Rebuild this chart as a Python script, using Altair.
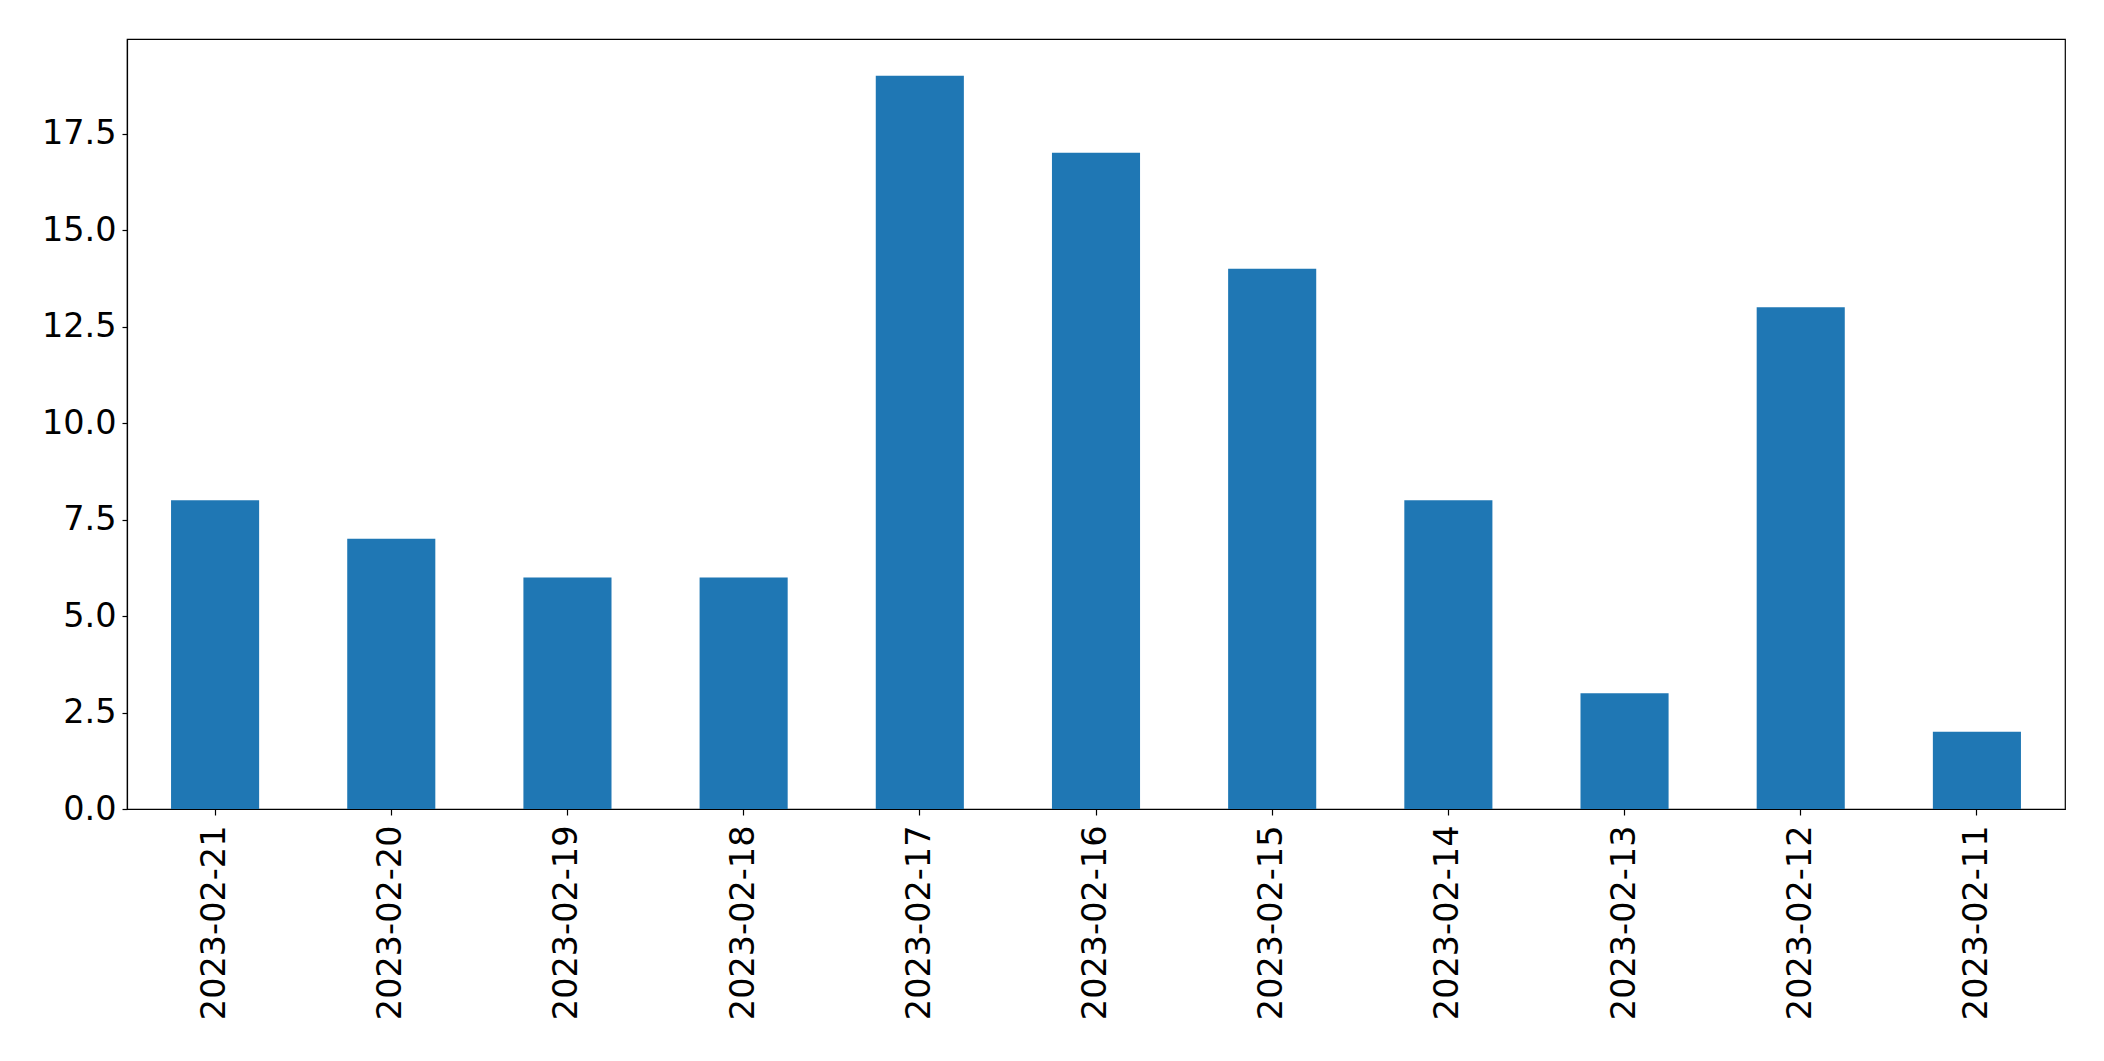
import altair as alt
import pandas as pd

dates = ["2023-02-21", "2023-02-20", "2023-02-19", "2023-02-18", "2023-02-17",
         "2023-02-16", "2023-02-15", "2023-02-14", "2023-02-13", "2023-02-12",
         "2023-02-11"]
counts = [8, 7, 6, 6, 19, 17, 14, 8, 3, 13, 2]
y_ticks = [0.0, 2.5, 5.0, 7.5, 10.0, 12.5, 15.0, 17.5]

df = pd.DataFrame({"date": dates, "count": counts})

FONT = "DejaVu Sans"
FS = 33.5

chart = alt.Chart(df).mark_bar(color="#1f77b4").encode(
    x=alt.X("date:N", sort=dates, title=None,
            scale=alt.Scale(paddingInner=0.5, paddingOuter=0.25),
            axis=alt.Axis(labelAngle=270, labelFont=FONT, labelFontSize=FS,
                          labelColor="black", tickColor="black", tickSize=6,
                          tickWidth=1.2, labelPadding=10, domainColor="black",
                          domainWidth=1.2, grid=False, labelOverlap=False,
                          labelLimit=0)),
    y=alt.Y("count:Q", title=None,
            scale=alt.Scale(domain=[0, 19.95], nice=False, zero=True),
            axis=alt.Axis(values=y_ticks, format=".1f", labelFont=FONT,
                          labelFontSize=FS, labelColor="black", tickColor="black",
                          tickSize=5, tickWidth=1.2, labelPadding=6,
                          domainColor="black", domainWidth=1.2, grid=False)),
).properties(
    width=1938, height=770,
    autosize=alt.AutoSizeParams(type="none"),
    padding={"left": 119, "top": 31, "right": 20, "bottom": 230},
).configure_view(stroke="black", strokeWidth=1.2)

chart.save("out.html", embed_options={"renderer": "svg", "actions": False})
